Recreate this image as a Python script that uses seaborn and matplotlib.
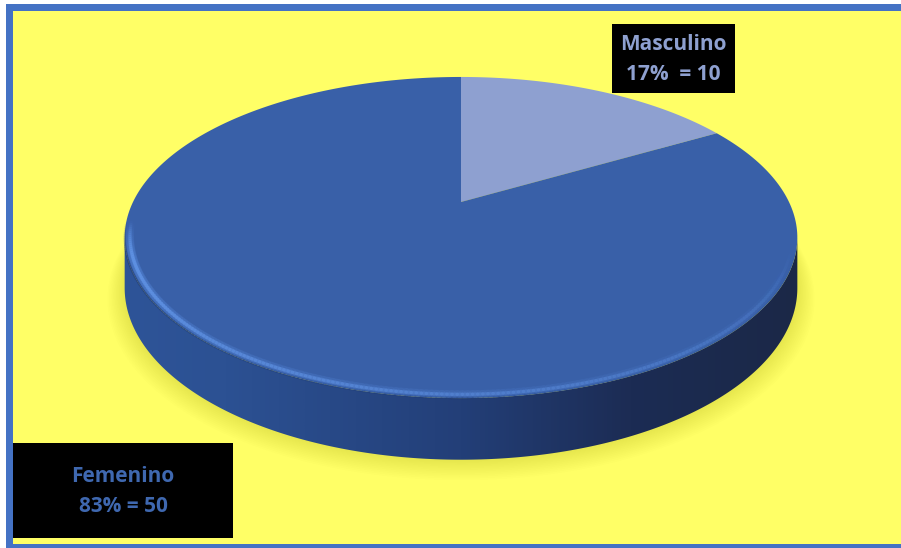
import numpy as np
import matplotlib
matplotlib.use('Agg')
import matplotlib.pyplot as plt
import seaborn as sns
from matplotlib.patches import Polygon, Rectangle
from matplotlib.colors import LinearSegmentedColormap
from matplotlib.collections import LineCollection

# ---- data ----
categories = ['Masculino', 'Femenino']
counts = [10, 50]
pct_text = ['17%  = 10', '83% = 50']
slice_colors = ['#8EA0D0', '#3960A8']
label_colors = ['#8EA0D0', '#3F68B0']

sns.set_theme(style='white')
plt.rcParams['font.family'] = ['Open Sans', 'DejaVu Sans']

fig = plt.figure(figsize=(9.01, 5.48), dpi=100)
fig.patch.set_facecolor('white')
ax = fig.add_axes([0, 0, 1, 1])
ax.set_xlim(0, 901)
ax.set_ylim(548, 0)
ax.axis('off')

# background and frame
ax.add_patch(Rectangle((6, 4), 900, 548, facecolor='#FFFF66', edgecolor='none', zorder=0))
ax.add_patch(Rectangle((6, 4), 900, 7, facecolor='#4472C4', edgecolor='none', zorder=10))
ax.add_patch(Rectangle((6, 4), 7, 548, facecolor='#4472C4', edgecolor='none', zorder=10))
ax.add_patch(Rectangle((6, 544), 900, 6, facecolor='#4472C4', edgecolor='none', zorder=10))

# perspective disk geometry
cx, cy, A, B, D, H = 461, 202, 328, 152.7, 4.52, 48


def proj(phi, r=1.0, drop=0.0):
    u, w = r * np.cos(phi), r * np.sin(phi)
    s = D / (D - w)
    return cx + A * u * s, cy + B * w * s + drop * H * s


# shadow glow
full = np.linspace(0, 2 * np.pi, 400)
for k in range(12, 0, -1):
    x, y = proj(full, r=1.0 + k * 0.004, drop=1.0)
    ax.fill(x, y + k * 0.6, color='#C8C830', alpha=0.035, lw=0, zorder=1)

# side surface with horizontal gradient
phR = np.arcsin(1 / D)
phL = np.pi - phR
near = np.linspace(phR, phL, 300)
xt, yt = proj(near)
xb, yb = proj(near[::-1], drop=1.0)
side_poly = Polygon(np.column_stack([np.r_[xt, xb], np.r_[yt, yb]]), closed=True,
                    facecolor='none', edgecolor='none')
ax.add_patch(side_poly)
cmap = LinearSegmentedColormap.from_list('side', [(0, '#2E5498'), (0.15, '#2C5193'),
                                                   (0.5, '#233F78'), (0.75, '#1C2C54'),
                                                   (1, '#1B2847')])
grad = np.linspace(0, 1, 512)[None, :]
im = ax.imshow(grad, cmap=cmap, aspect='auto',
               extent=(xt.min() - 2, xt.max() + 2, yb.max() + 2, yt.min() - 2), zorder=2)
im.set_clip_path(side_poly)

# top face slices
fracs = np.array(counts) / np.sum(counts)
start = -np.pi / 2
for frac, col in zip(fracs, slice_colors):
    ph = np.linspace(start, start + 2 * np.pi * frac, 300)
    x, y = proj(ph)
    ax.fill(np.r_[cx, x], np.r_[cy, y], color=col, lw=0, zorder=3)
    start += 2 * np.pi * frac


def rim_line(r, rgb, lw, amax, zo):
    ph = np.linspace(np.pi - 0.12, 0.3, 220)
    x, y = proj(ph, r=r)
    pts = np.column_stack([x, y]).reshape(-1, 1, 2)
    segs = np.concatenate([pts[:-1], pts[1:]], axis=1)
    t = np.linspace(0, 1, len(segs))
    a = amax * np.clip(np.minimum(t / 0.08, 1) * (1 - t) ** 0.8, 0, 1)
    cols = [(*rgb, ai) for ai in a]
    ax.add_collection(LineCollection(segs, colors=cols, linewidths=lw, zorder=zo,
                                     capstyle='round'))


# soft bevel highlight along near rim
rim_line(0.985, (0.35, 0.55, 0.88), 6.0, 0.18, 4)
rim_line(0.985, (0.38, 0.58, 0.90), 2.5, 0.6, 4)
# dark crease at the edge
rim_line(1.0, (0.12, 0.22, 0.42), 1.5, 0.35, 4)

# label boxes
fs = 15
ax.add_patch(Rectangle((612, 24), 123, 69, facecolor='black', edgecolor='none', zorder=5))
ax.text(673.5, 45, categories[0], ha='center', va='center', fontsize=fs, fontweight='bold',
        color=label_colors[0], zorder=6)
ax.text(673.5, 75, pct_text[0], ha='center', va='center', fontsize=fs, fontweight='bold',
        color=label_colors[0], zorder=6)

ax.add_patch(Rectangle((13, 443), 220, 95, facecolor='black', edgecolor='none', zorder=5))
ax.text(123, 477, categories[1], ha='center', va='center', fontsize=fs, fontweight='bold',
        color=label_colors[1], zorder=6)
ax.text(123, 507, pct_text[1], ha='center', va='center', fontsize=fs, fontweight='bold',
        color=label_colors[1], zorder=6)

fig.savefig('out.png', dpi=100, facecolor=fig.get_facecolor())
